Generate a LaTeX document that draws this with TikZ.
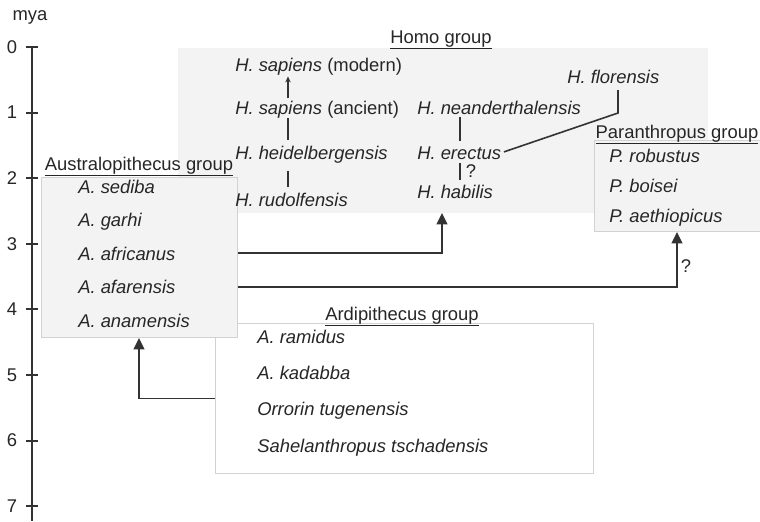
\documentclass[tikz,border=0pt]{standalone}
\usepackage{fontspec}
\setmainfont{Liberation Sans}
\usetikzlibrary{arrows.meta,positioning}

\definecolor{ink}{HTML}{262626}
\definecolor{linegray}{HTML}{333333}
\definecolor{boxline}{HTML}{D2D2D2}
\definecolor{boxfill}{HTML}{F3F3F3}

\tikzset{
  txt/.style={inner sep=0pt, text=ink, font=\fontsize{13.8}{16}\selectfont},
  species/.style={txt, anchor=base west, font=\fontsize{13.8}{16}\selectfont\itshape},
  grouplabel/.style={txt, anchor=base},
  groupbox/.style={draw=boxline, line width=0.8pt, fill=boxfill, anchor=north west, inner sep=0pt},
  link/.style={draw=linegray, line width=1.4pt},
  branch/.style={draw=linegray, line width=1pt},
  arr/.style={link, -{Triangle[width=8pt,length=8.5pt]}},
}

\begin{document}
\begin{tikzpicture}[x=0.75pt,y=-0.75pt]
\useasboundingbox (0,0) rectangle (760,521);

% time axis
\node (mya) [txt] at (30,17) {mya};
\draw[link, line width=1.8pt] (32,46) -- (32,521);
\foreach \t in {0,...,7} {
  \draw[link, line width=1.6pt] (26,47+65.6*\t) -- (38,47+65.6*\t);
  \node (tick\t) [txt] at (12,47+65.6*\t) {\t};
}

% group boxes
\node (homobox) [groupbox, draw=none, minimum width=397.5pt, minimum height=123.75pt] at (177,47) {};
\node (parabox) [groupbox, minimum width=124.5pt, minimum height=68.25pt] at (594,140) {};
\node (ardibox) [groupbox, fill=white, minimum width=283.5pt, minimum height=112.5pt] at (215,323) {};
\node (austbox) [groupbox, minimum width=147pt, minimum height=120pt] at (41,177) {};

% group labels
\node (homolbl) [grouplabel] at (441,43) {\underline{Homo group}};
\node (paralbl) [grouplabel] at (677,138) {\underline{Paranthropus group}};
\node (austlbl) [grouplabel] at (139,170) {\underline{Australopithecus group}};
\node (ardilbl) [grouplabel] at (402,320) {\underline{Ardipithecus group}};

% Homo
\node (modern) [species] at (235,71) {H. sapiens \upshape(modern)};
\node (ancient) [species] at (235,114) {H. sapiens \upshape(ancient)};
\node (heidel) [species] at (235,159) {H. heidelbergensis};
\node (rudolf) [species] at (235,206) {H. rudolfensis};
\node (neander) [species] at (417,114) {H. neanderthalensis};
\node (erectus) [species] at (417,159) {H. erectus};
\node (habilis) [species] at (417,198) {H. habilis};
\node (floren) [species] at (567,83) {H. florensis};
\node (q1) [txt] at (471,171) {?};

% Paranthropus
\node (robustus) [species] at (609,162) {P. robustus};
\node (boisei) [species] at (609,192) {P. boisei};
\node (aethiop) [species] at (609,222) {P. aethiopicus};

% Australopithecus
\node (sediba) [species] at (78,193) {A. sediba};
\node (garhi) [species] at (78,226.5) {A. garhi};
\node (africanus) [species] at (78,260) {A. africanus};
\node (afarensis) [species] at (78,293.5) {A. afarensis};
\node (anamensis) [species] at (78,327) {A. anamensis};

% Ardipithecus
\node (ramidus) [species] at (257,343) {A. ramidus};
\node (kadabba) [species] at (257,379) {A. kadabba};
\node (orrorin) [species] at (257,415) {Orrorin tugenensis};
\node (sahel) [species] at (257,452) {Sahelanthropus tschadensis};
\node (q2) [txt] at (686,266) {?};

% branch lines
\coordinate (sapx) at (288,0);
\coordinate (erx) at (460,0);
\coordinate (flbend) at (618,113);
\draw[branch, -{Stealth[width=4pt,length=4.5pt]}, shorten <=1.5pt, shorten >=1pt]
  (ancient.north -| sapx) -- (modern.south -| sapx);
\draw[branch, shorten <=0pt, shorten >=4pt] (ancient.south -| sapx) -- (heidel.north -| sapx);
\draw[branch, shorten <=6pt, shorten >=4pt] (heidel.south -| sapx) -- (rudolf.north -| sapx);
\draw[branch, shorten <=2pt, shorten >=4pt] (neander.south -| erx) -- (erectus.north -| erx);
\draw[branch, shorten <=3pt, shorten >=3pt] (erectus.south -| erx) -- (habilis.north -| erx);
\draw[branch, line width=1.2pt, shorten <=2pt] (erectus.east) -- (flbend) -- ([yshift=-5pt]floren.south -| flbend);

% links between groups
\coordinate (hin) at (442,0);
\coordinate (pin) at (677,0);
\coordinate (ain) at (139,0);
\draw[arr] (austbox.east |- africanus) -| (homobox.south -| hin);
\draw[arr] (austbox.east |- afarensis) -| (parabox.south -| pin);
\draw[arr] (ardibox.west) -| (austbox.south -| ain);
\end{tikzpicture}
\end{document}
